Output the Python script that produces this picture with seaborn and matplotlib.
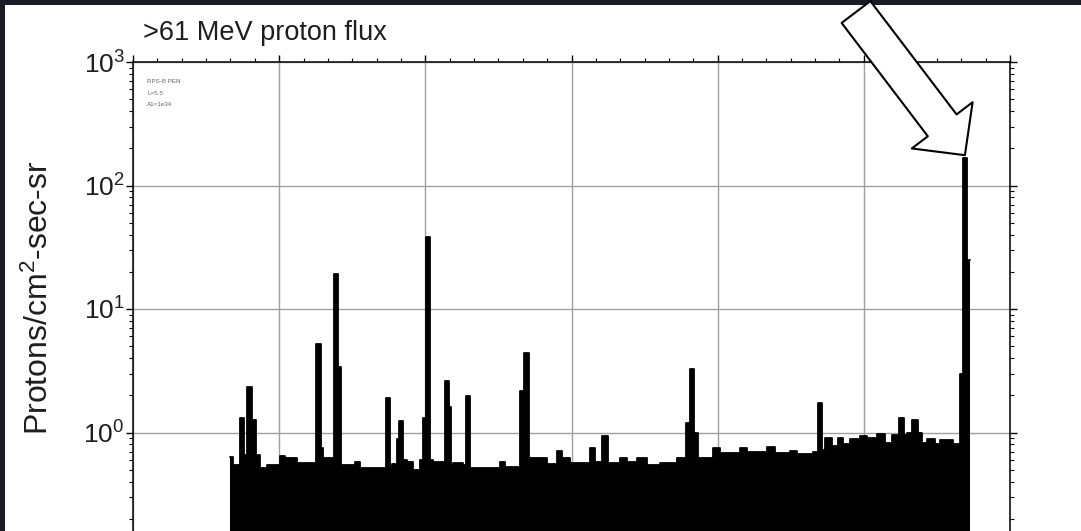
import numpy as np
import pandas as pd
import matplotlib
matplotlib.use("Agg")
import matplotlib.pyplot as plt
from matplotlib.patches import Rectangle
from matplotlib.ticker import LogLocator, MultipleLocator, NullFormatter, FuncFormatter
import seaborn as sns

# Quiet-time background flux: piecewise constant between consecutive edges
# (x in time-grid units, one major grid division per unit)
base_edges = [0.664, 0.684, 0.732, 0.869, 0.917, 1.006, 1.040, 1.122, 1.259, 1.300,
              1.368, 1.416, 1.519, 1.553, 1.772, 1.827, 1.874, 1.916, 1.963, 2.052,
              2.148, 2.189, 2.258, 2.305, 2.511, 2.545, 2.647, 2.716, 2.832, 2.901,
              2.935, 2.990, 3.126, 3.161, 3.209, 3.250, 3.332, 3.380, 3.448, 3.516,
              3.605, 3.721, 3.790, 3.879, 3.968, 4.016, 4.152, 4.200, 4.337, 4.392,
              4.495, 4.542, 4.652, 4.686, 4.734, 4.782, 4.823, 4.857, 4.905, 4.973,
              5.021, 5.090, 5.144, 5.192, 5.233, 5.295, 5.329, 5.370, 5.398, 5.432,
              5.487, 5.521, 5.610, 5.658, 5.678]
base_flux = [0.63, 0.55, 0.66, 0.52, 0.55, 0.64, 0.62, 0.57, 0.75, 0.62,
             0.62, 0.55, 0.58, 0.52, 0.56, 0.60, 0.58, 0.50, 0.60, 0.58,
             0.55, 0.57, 0.55, 0.52, 0.58, 0.53, 0.55, 0.62, 0.56, 0.71,
             0.62, 0.57, 0.75, 0.58, 0.93, 0.57, 0.62, 0.58, 0.62, 0.55,
             0.57, 0.62, 0.62, 0.62, 0.75, 0.68, 0.75, 0.70, 0.76, 0.68,
             0.71, 0.67, 0.70, 0.72, 0.91, 0.78, 0.91, 0.80, 0.88, 0.93,
             0.90, 0.97, 0.82, 0.95, 0.95, 1.00, 1.27, 1.00, 0.82, 0.88,
             0.80, 0.87, 0.80, 1.75]

# Solar proton events (start, end, peak flux)
spike_start = [0.732, 0.780, 0.814, 1.252, 1.375, 1.402, 1.731, 1.806, 1.820, 1.984,
               2.004, 2.134, 2.162, 2.278, 2.647, 2.675, 3.783, 3.810, 3.838, 4.686,
               5.240, 5.658, 5.678, 5.705]
spike_end = [0.759, 0.814, 0.841, 1.286, 1.402, 1.423, 1.758, 1.820, 1.847, 2.004,
             2.032, 2.162, 2.175, 2.305, 2.675, 2.709, 3.810, 3.838, 3.865, 4.713,
             5.275, 5.678, 5.705, 5.726]
spike_peak = [1.32, 2.32, 1.27, 5.2, 19.3, 3.4, 1.92, 0.88, 1.23, 1.32,
              38.5, 2.6, 1.6, 1.96, 2.15, 4.4, 1.2, 3.25, 1.0, 1.72,
              1.32, 3.0, 166, 25]

title = ">61 MeV proton flux"
ylabel = "Protons/cm$^{2}$-sec-sr"
info_lines = ["RPS-B PEN", "L=5.5", "A1<1e34"]

sns.set_theme(style="ticks")
plt.rcParams["font.family"] = ["Liberation Sans", "DejaVu Sans"]
plt.rcParams["mathtext.fontset"] = "custom"
plt.rcParams["mathtext.rm"] = "Liberation Sans"
plt.rcParams["mathtext.it"] = "Liberation Sans:italic"
plt.rcParams["mathtext.bf"] = "Liberation Sans:bold"

# Merge background and events into a single step series
edges = np.unique(np.concatenate([base_edges, spike_start, spike_end]))
mid = (edges[:-1] + edges[1:]) / 2
be = np.asarray(base_edges)
bv = np.asarray(base_flux)
idx = np.clip(np.searchsorted(be, mid, side="right") - 1, 0, len(bv) - 1)
inside = (mid > be[0]) & (mid < be[-1])
flux = np.where(inside, bv[idx], np.nan)
for s, e, p in zip(spike_start, spike_end, spike_peak):
    m = (mid > s) & (mid < e)
    flux[m] = np.fmax(flux[m], p)

step_y = np.append(flux, flux[-1])
df = pd.DataFrame({"t": edges, "flux": step_y})

W, H = 1081, 531
fig = plt.figure(figsize=(W / 100, H / 100), dpi=100, facecolor="#191c24")
# white slide area inside the dark frame
fig.add_artist(Rectangle((5 / W, 0), 1, 1 - 5 / H, transform=fig.transFigure,
                         facecolor="white", edgecolor="none", zorder=0))

ax = fig.add_axes([133 / W, 1 - 556 / H, 877 / W, 494 / H])
ax.set_facecolor("white")
ax.set_yscale("log")
sns.lineplot(data=df, x="t", y="flux", drawstyle="steps-post", color="black",
             linewidth=1.3, ax=ax, zorder=3)
ax.fill_between(df["t"], 1e-3, df["flux"], step="post", color="black",
                linewidth=0, zorder=3)
ax.set_xlim(0, 6)
ax.set_ylim(0.1, 1000)


def decade_label(v, pos):
    if v < 1:
        return ""
    return r"$\mathregular{10^{%d}}$" % int(round(np.log10(v)))


ax.xaxis.set_major_locator(MultipleLocator(1))
ax.xaxis.set_minor_locator(MultipleLocator(1 / 6))
ax.yaxis.set_major_locator(LogLocator(base=10, numticks=10))
ax.yaxis.set_major_formatter(FuncFormatter(decade_label))
ax.yaxis.set_minor_locator(LogLocator(base=10, subs=np.arange(2, 10), numticks=10))
ax.yaxis.set_minor_formatter(NullFormatter())
ax.tick_params(which="both", direction="out", top=True, right=True, left=True,
               bottom=True, color="black", labelbottom=False)
ax.tick_params(which="major", length=5, width=1)
ax.tick_params(which="minor", length=3, width=0.8)
ax.tick_params(axis="y", labelsize=19, pad=1, labelcolor="#1e1e1e")

ax.set_axisbelow(True)
ax.grid(True, which="major", color="#a0a0a0", linewidth=1)
for sp in ax.spines.values():
    sp.set_visible(True)
    sp.set_color("black")
    sp.set_linewidth(1.1)

ax.set_xlabel("")
ax.set_ylabel(ylabel, fontsize=23, color="#1e1e1e")
ax.yaxis.set_label_coords(-0.089, 0.522)

ax.text(0.016, 0.965, "\n".join(info_lines), transform=ax.transAxes,
        fontsize=4.5, linespacing=2.6, color="#666666", va="top", ha="left")

fig.text(143 / W, 1 - 33 / H, title, fontsize=19.5, ha="left", va="center",
         color="#1e1e1e")

# block arrow pointing at the largest event
k = int(np.argmax(spike_peak))
tip = ((spike_start[k] + spike_end[k]) / 2, spike_peak[k] * 1.06)
ax.annotate("", xy=tip, xycoords="data",
            xytext=(856 / W, 1 - 12 / H), textcoords="figure fraction",
            arrowprops=dict(arrowstyle="simple,head_length=2.7,head_width=5.5,tail_width=2.6",
                            mutation_scale=10, fc="white", ec="black", lw=1.5,
                            shrinkA=0, shrinkB=0),
            annotation_clip=False)

fig.savefig("out.png", dpi=100, facecolor=fig.get_facecolor())
